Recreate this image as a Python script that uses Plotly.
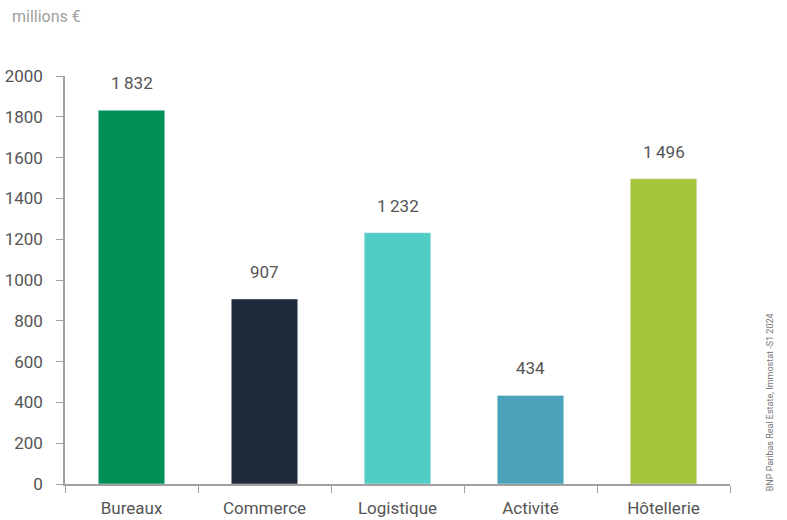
import plotly.graph_objects as go

categories = ["Bureaux", "Commerce", "Logistique", "Activité", "Hôtellerie"]
values = [1832, 907, 1232, 434, 1496]
colors = ["#008F57", "#1F2B3A", "#52CDC6", "#4BA3BB", "#A5C43C"]
y_ticks = [0, 200, 400, 600, 800, 1000, 1200, 1400, 1600, 1800, 2000]

FONT = "Roboto, sans-serif"
TXT = "#555555"

def fmt(v):
    return f"{v:,}".replace(",", "\u2009")

fig = go.Figure(go.Bar(
    x=categories, y=values, marker_color=colors, width=0.5,
    hoverinfo="skip",
))

for c, v in zip(categories, values):
    fig.add_annotation(x=c, y=v, text=fmt(v), showarrow=False, yanchor="bottom",
                       yshift=15, font=dict(family=FONT, size=17, color=TXT))

fig.add_annotation(xref="paper", yref="paper", x=-0.083, y=1.145, xanchor="left", yanchor="middle",
                   text="millions €", showarrow=False,
                   font=dict(family=FONT, size=16, color="#a0a0a0"))
fig.add_annotation(xref="paper", yref="paper", x=1.06, y=0.2, xanchor="center", yanchor="middle",
                   text="BNP Paribas Real Estate, Immostat -S1 2024", textangle=-90, showarrow=False,
                   font=dict(family=FONT, size=9, color="#777777"))

fig.update_layout(
    width=787, height=520,
    margin=dict(l=65, r=57, t=76, b=36),
    plot_bgcolor="white", paper_bgcolor="white",
    showlegend=False,
    font=dict(family=FONT, size=17, color=TXT),
)
fig.update_xaxes(showline=True, linecolor="#a0a0a0", linewidth=1.5, ticks="outside",
                 tickson="boundaries", ticklen=7, tickcolor="#a0a0a0",
                 ticklabelstandoff=8, automargin=False,
                 tickfont=dict(family=FONT, size=17, color=TXT))
fig.update_yaxes(range=[0, 2000], tickvals=y_ticks, showgrid=False, zeroline=False,
                 showline=True, linecolor="#a0a0a0", linewidth=1.5, ticks="outside",
                 ticklen=7, tickcolor="#a0a0a0", ticklabelstandoff=10, automargin=False,
                 tickfont=dict(family=FONT, size=17, color=TXT))

fig.write_html("out.html")
